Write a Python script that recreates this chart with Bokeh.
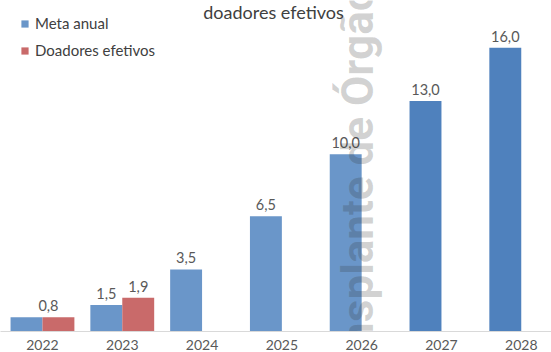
import math
from bokeh.plotting import figure
from bokeh.models import ColumnDataSource, Range1d, FixedTicker, Legend, LegendItem
from bokeh.core.properties import value
from bokeh.embed import file_html
from bokeh.resources import INLINE

# ---- data ----
years = ["2022", "2023", "2024", "2025", "2026", "2027", "2028"]
meta_anual = [0.8, 1.5, 3.5, 6.5, 10.0, 13.0, 16.0]
doadores_years = ["2022", "2023"]
doadores_efetivos = [0.8, 1.9]
meta_labels = ["", "1,5", "3,5", "6,5", "10,0", "13,0", "16,0"]
doadores_labels = ["0,8", "1,9"]
title_text = "doadores efetivos"
watermark_text = "Transplante de Órgãos"

# ---- styles ----
meta_colors = ["#6a96c9", "#6a96c9", "#6a96c9", "#6a96c9", "#6a96c9", "#4f81bd", "#4f81bd"]
red = "#c96a6a"
text_col = "#404040"
label_col = "#595959"
FONT = "Lato"
BW = 0.4

idx = {y: i for i, y in enumerate(years)}
meta_x = [idx[y] - BW / 2 for y in years]
doa_x = [idx[y] + BW / 2 for y in doadores_years]

meta_src = ColumnDataSource(dict(x=meta_x, top=meta_anual, color=meta_colors, label=meta_labels))
doa_src = ColumnDataSource(dict(x=doa_x, top=doadores_efetivos, label=doadores_labels,
                                xoff=[-10, 0]))

YMAX = 18.67
p = figure(width=551, height=352, output_backend="svg", toolbar_location=None,
           x_range=Range1d(-0.526, 6.379), y_range=Range1d(0, YMAX),
           min_border_left=0, min_border_right=0, min_border_top=0, min_border_bottom=21)
p.outline_line_color = None
p.background_fill_color = "white"
p.border_fill_color = "white"
p.xgrid.visible = False
p.ygrid.visible = False
p.yaxis.visible = False

r_meta = p.vbar(x="x", top="top", width=BW, bottom=0, source=meta_src,
                fill_color="color", line_color=None)
r_doa = p.vbar(x="x", top="top", width=BW, bottom=0, source=doa_src,
               fill_color=red, line_color=None)

p.text(x="x", y="top", text="label", source=meta_src, text_align="center",
       text_baseline="bottom", y_offset=-6, text_font=value(FONT),
       text_font_size="14.5px", text_color=label_col)
p.text(x="x", y="top", text="label", source=doa_src, text_align="center",
       text_baseline="bottom", y_offset=-6, x_offset="xoff", text_font=value(FONT),
       text_font_size="14.5px", text_color=label_col)

# watermark text (rotated)
wm_src = ColumnDataSource(dict(x=[3.960], y=[8.11], t=[watermark_text]))
p.text(x="x", y="y", text="t", source=wm_src, angle=math.pi / 2,
       text_align="center", text_baseline="alphabetic",
       text_font=value("Roboto"), text_font_style="bold",
       text_font_size="44px", text_color="#333333", text_alpha=0.22)

# title
t_src = ColumnDataSource(dict(x=[2.895], y=[YMAX], t=[title_text]))
p.text(x="x", y="y", text="t", source=t_src, text_align="center",
       text_baseline="top", text_font=value(FONT), text_font_size="18px",
       text_color=text_col)

ax = p.xaxis[0]
ax.ticker = FixedTicker(ticks=list(range(len(years))))
ax.major_label_overrides = {i: y for i, y in enumerate(years)}
ax.major_tick_line_color = None
ax.minor_tick_line_color = None
ax.axis_line_color = "#d9d9d9"
ax.major_label_standoff = 2
ax.major_label_text_font = FONT
ax.major_label_text_font_size = "14px"
ax.major_label_text_color = label_col

legend = Legend(items=[LegendItem(label="Meta anual", renderers=[r_meta], index=0),
                       LegendItem(label="Doadores efetivos", renderers=[r_doa], index=0)],
                location=(20, 271), orientation="vertical",
                glyph_width=9, glyph_height=9, label_standoff=6, spacing=7,
                label_height=20, padding=6, margin=0,
                label_text_font=FONT, label_text_font_size="15px",
                label_text_color=text_col,
                border_line_color=None, background_fill_alpha=0)
p.add_layout(legend, "center")

open("out.html", "w").write(file_html(p, INLINE))
